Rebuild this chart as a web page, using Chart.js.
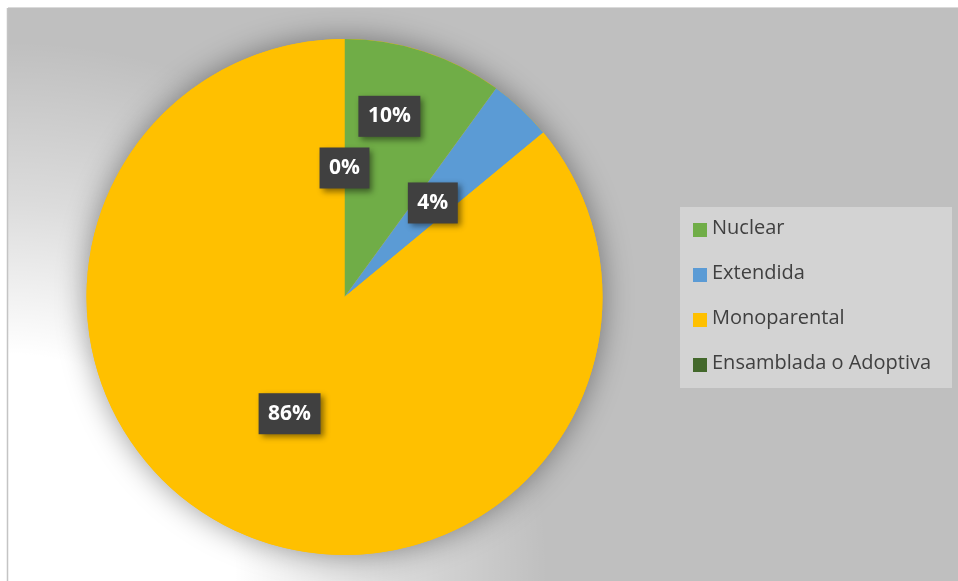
<!DOCTYPE html>
<html>
<head>
<meta charset="utf-8">
<script src="https://cdn.jsdelivr.net/npm/chart.js@4/dist/chart.umd.min.js"></script>
<style>
  html, body { margin: 0; padding: 0; background: #fff; }
  canvas { display: block; }
</style>
</head>
<body>
<canvas id="pieChart" width="958" height="581"></canvas>
<script>
const familyTypes = ['Nuclear', 'Extendida', 'Monoparental', 'Ensamblada o Adoptiva'];
const familyShares = [10, 4, 86, 0];
const sliceColors = ['#70AD47', '#5B9BD5', '#FFC000', '#43682B'];

// chart frame: white margin, gray plot background with a white glow bottom-left
const backgroundPlugin = {
    id: 'frameBackground',
    beforeDraw: (chart) => {
        const { ctx, width, height } = chart;
        ctx.save();
        ctx.fillStyle = '#ffffff';
        ctx.fillRect(0, 0, width, height);
        ctx.fillStyle = '#BFBFBF';
        ctx.fillRect(8, 8, width - 8, height - 8);
        const glow = ctx.createRadialGradient(8, height, 0, 8, height, 540);
        glow.addColorStop(0, 'rgba(255,255,255,1)');
        glow.addColorStop(0.42, 'rgba(255,255,255,1)');
        glow.addColorStop(0.7, 'rgba(255,255,255,0.45)');
        glow.addColorStop(1, 'rgba(255,255,255,0)');
        ctx.fillStyle = glow;
        ctx.fillRect(8, 8, width - 8, height - 8);
        ctx.strokeStyle = '#C4C4C4';
        ctx.lineWidth = 1.5;
        ctx.beginPath();
        ctx.moveTo(7.5, 8);
        ctx.lineTo(7.5, height);
        ctx.stroke();
        ctx.strokeStyle = '#DADADA';
        ctx.lineWidth = 1;
        ctx.beginPath();
        ctx.moveTo(8, 7.5);
        ctx.lineTo(width, 7.5);
        ctx.stroke();
        ctx.restore();
    },
};

// soft shadow under the whole pie
const pieShadowPlugin = {
    id: 'pieShadow',
    beforeDatasetsDraw: (chart) => {
        const arc = chart.getDatasetMeta(0).data[0];
        if (!arc) return;
        const { ctx } = chart;
        ctx.save();
        ctx.shadowColor = 'rgba(0,0,0,0.4)';
        ctx.shadowBlur = 30;
        ctx.fillStyle = '#FFC000';
        ctx.beginPath();
        ctx.arc(arc.x, arc.y, arc.outerRadius, 0, Math.PI * 2);
        ctx.fill();
        ctx.restore();
    },
};

// dark percentage boxes inside the slices
const percentLabelPlugin = {
    id: 'percentLabels',
    afterDatasetsDraw: (chart, args, opts) => {
        const { ctx } = chart;
        const meta = chart.getDatasetMeta(0);
        ctx.save();
        ctx.font = "bold 21px 'Open Sans', sans-serif";
        ctx.textAlign = 'center';
        ctx.textBaseline = 'middle';
        meta.data.forEach((arc, i) => {
            const mid = (arc.startAngle + arc.endAngle) / 2;
            const r = arc.outerRadius * 0.5;
            const [dx, dy] = opts.nudge[i] || [0, 0];
            const x = arc.x + Math.cos(mid) * r + dx;
            const y = arc.y + Math.sin(mid) * r + dy;
            const text = `${familyShares[i]}%`;
            const w = ctx.measureText(text).width + 19;
            const h = 41;
            ctx.save();
            ctx.shadowColor = 'rgba(0,0,0,0.45)';
            ctx.shadowBlur = 6;
            ctx.shadowOffsetX = 3;
            ctx.shadowOffsetY = 3;
            ctx.fillStyle = '#404040';
            ctx.fillRect(x - w / 2, y - h / 2, w, h);
            ctx.restore();
            ctx.fillStyle = '#ffffff';
            ctx.fillText(text, x, y);
        });
        ctx.restore();
    },
};

// legend panel on the right
const legendPanelPlugin = {
    id: 'legendPanel',
    afterDraw: (chart, args, opts) => {
        const { ctx } = chart;
        const { left, top, width, height, rowGap } = opts;
        ctx.save();
        ctx.fillStyle = '#D3D3D3';
        ctx.fillRect(left, top, width, height);
        ctx.font = "20px 'Open Sans', sans-serif";
        ctx.textBaseline = 'middle';
        chart.data.labels.forEach((label, i) => {
            const cy = top + 23 + i * rowGap;
            ctx.fillStyle = chart.data.datasets[0].backgroundColor[i];
            ctx.fillRect(left + 13, cy - 7, 14, 14);
            ctx.fillStyle = '#404040';
            ctx.fillText(label, left + 32, cy - 2);
        });
        ctx.restore();
    },
};

new Chart(document.getElementById('pieChart'), {
    type: 'pie',
    data: {
        labels: familyTypes,
        datasets: [
            {
                data: familyShares,
                backgroundColor: sliceColors,
                borderWidth: 0,
            },
        ],
    },
    options: {
        responsive: false,
        animation: false,
        events: [],
        layout: {
            padding: { left: 86, right: 355, top: 39, bottom: 26 },
        },
        plugins: {
            legend: { display: false },
            tooltip: { enabled: false },
            percentLabels: { nudge: { 0: [5, -58] } },
            legendPanel: { left: 680, top: 207, width: 272, height: 181, rowGap: 45 },
        },
    },
    plugins: [backgroundPlugin, pieShadowPlugin, percentLabelPlugin, legendPanelPlugin],
});
</script>
</body>
</html>
